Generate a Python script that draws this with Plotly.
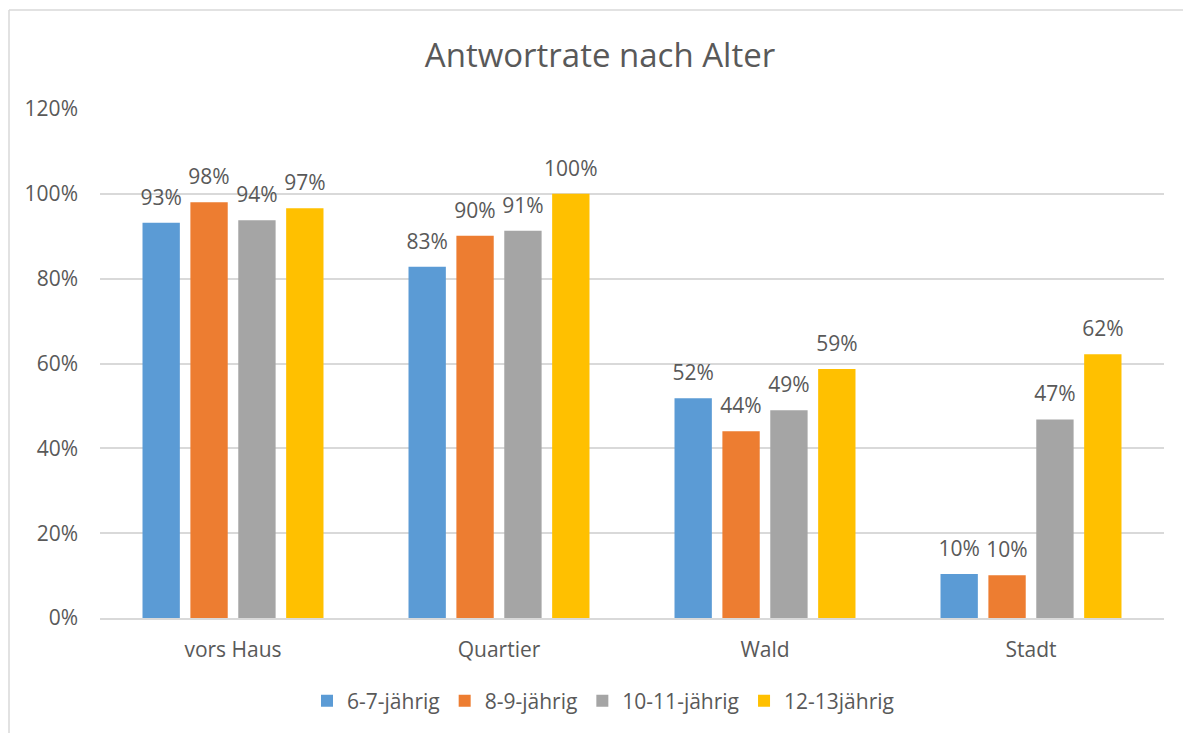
import plotly.graph_objects as go

# categories and series (as fractions)
orte = ['vors Haus', 'Quartier', 'Wald', 'Stadt']
gruppen = ['6-7-jährig', '8-9-jährig', '10-11-jährig', '12-13jährig']
w_6_7 = [0.932, 0.828, 0.518, 0.104]
w_8_9 = [0.980, 0.901, 0.440, 0.101]
w_10_11 = [0.938, 0.913, 0.490, 0.468]
w_12_13 = [0.966, 1.000, 0.587, 0.622]
farben = ['#5B9BD5', '#ED7D31', '#A5A5A5', '#FFC000']

txt = '#595959'
fnt = 'Open Sans'
fs = 21

fig = go.Figure()
for name, vals, col in zip(gruppen, [w_6_7, w_8_9, w_10_11, w_12_13], farben):
    fig.add_trace(go.Bar(
        x=orte, y=vals, name=name,
        marker=dict(color=col, line=dict(width=0)),
        hoverinfo='x+y+name',
    ))
# data labels: grouped scatter text, so they sit a bit higher above the bars
for name, vals in zip(gruppen, [w_6_7, w_8_9, w_10_11, w_12_13]):
    fig.add_trace(go.Scatter(
        x=orte, y=vals, name=name, mode='markers+text', showlegend=False,
        marker=dict(size=19, opacity=0),
        texttemplate='%{y:.0%}', textposition='top center',
        textfont=dict(size=fs, color=txt, family=fnt),
        hoverinfo='skip', cliponaxis=False,
    ))

# page has an 8px body margin, so margins are shifted by 8
fig.update_layout(
    width=1191, height=733,
    margin=dict(l=92, r=35, t=101, b=123),
    paper_bgcolor='white', plot_bgcolor='white',
    font=dict(family=fnt, color=txt, size=fs),
    title=dict(text='Antwortrate nach Alter', x=(600 - 8) / 1191, xanchor='center',
               y=1 - 47 / 733, yanchor='middle',
               font=dict(size=33, color=txt, family=fnt)),
    barmode='group', bargap=0.28, bargroupgap=0.22,
    scattermode='group', scattergap=0.28,
    legend=dict(orientation='h', x=(603 - 100) / 1064, xanchor='center',
                y=(618 - 701) / 509, yanchor='middle',
                font=dict(size=fs, color=txt), itemwidth=30,
                traceorder='normal'),
    xaxis=dict(showgrid=False, showline=True, linecolor='#D9D9D9', linewidth=1.5,
               ticks='', ticklabelstandoff=12, tickfont=dict(size=fs, color=txt)),
    yaxis=dict(range=[0, 1.2], dtick=0.2, tickformat='.0%', showgrid=True,
               gridcolor='#D9D9D9', gridwidth=1.5, zeroline=False, showline=False,
               ticks='', ticklabelstandoff=21, tickfont=dict(size=fs, color=txt)),
)

# chart area border (top and left visible in the reference)
fig.add_shape(type='line', xref='paper', yref='paper',
              x0=(1 - 92) / 1064, x1=1 + 60 / 1064,
              y0=(618 - 10) / 509, y1=(618 - 10) / 509,
              line=dict(color='#D9D9D9', width=1.5))
fig.add_shape(type='line', xref='paper', yref='paper',
              x0=(1 - 92) / 1064, x1=(1 - 92) / 1064,
              y0=(618 - 10) / 509, y1=(618 - 760) / 509,
              line=dict(color='#D9D9D9', width=1.5))

fig.write_html('out.html')
